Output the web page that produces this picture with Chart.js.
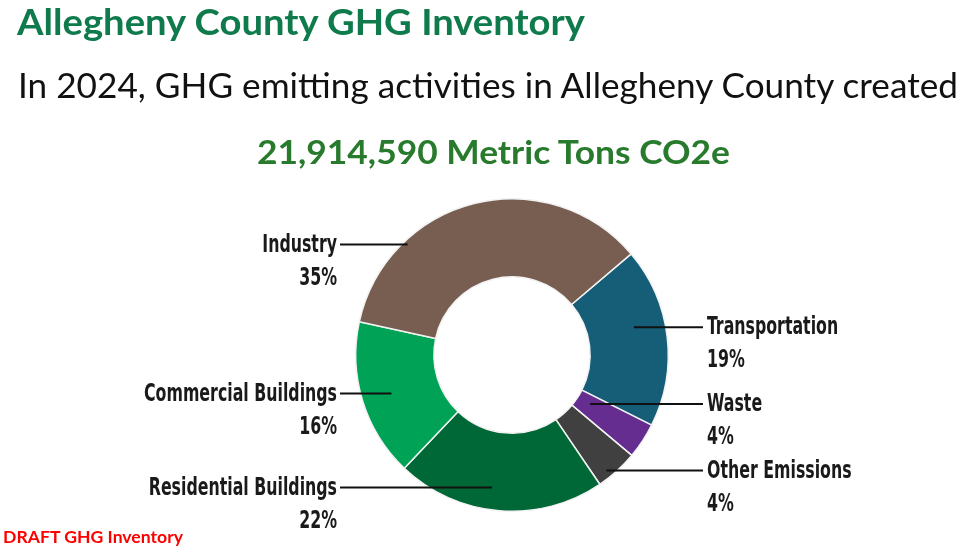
<!DOCTYPE html>
<html>
<head>
<meta charset="utf-8">
<script src="https://cdn.jsdelivr.net/npm/chart.js@4.4.1/dist/chart.umd.min.js"></script>
<style>
  html,body{margin:0;padding:0;background:#fff;}
  #wrap{position:relative;width:975px;height:556px;overflow:hidden;}
  #chartBox{position:absolute;left:0;top:0;width:975px;height:556px;}
  .t{position:absolute;white-space:nowrap;font-family:Lato,"Open Sans",sans-serif;line-height:1.2;transform-origin:0 0;}
  #title{left:17px;top:-0.5px;font-size:36px;font-weight:700;color:#0f7b4c;}
  #sub{left:18px;top:65px;font-size:34px;font-weight:400;color:#111;}
  #total{left:257px;top:132px;font-size:33px;font-weight:700;color:#287a2d;}
  #draft{left:3px;top:527px;font-size:17px;font-weight:700;color:#ff0000;}
</style>
</head>
<body>
<div id="wrap">
  <div id="chartBox"><canvas id="c"></canvas></div>
  <div class="t" id="title" data-w="568">Allegheny County GHG Inventory</div>
  <div class="t" id="sub" data-w="940">In 2024, GHG emitting activities in Allegheny County created</div>
  <div class="t" id="total" data-w="473">21,914,590 Metric Tons CO2e</div>
  <div class="t" id="draft" data-w="180">DRAFT GHG Inventory</div>
</div>
<script>
// ---- data ----
const categories = ["Transportation", "Waste", "Other Emissions", "Residential Buildings", "Commercial Buildings", "Industry"];
const shares = [18.6, 3.7, 4.4, 21.6, 16.3, 35.4];
const colors = ["#165e77", "#662d91", "#404040", "#006837", "#00a256", "#775e51"];
// leader layout (where the line touches each slice, and label side)
const leaderSide = ["right", "right", "right", "left", "left", "left"];
const leaderAngleFrac = [0.41, 0.41, 0.68, 0.55, 0.49, 0.27];
const leaderRadiusFrac = [0.80, 0.59, 0.955, 0.857, 0.81, 0.973];

// fit heading widths to the reference
document.querySelectorAll('.t').forEach(el => {
  const w = el.getBoundingClientRect().width;
  const target = parseFloat(el.dataset.w);
  if (w > 0) el.style.transform = 'scaleX(' + (target / w) + ')';
});

const LABEL_FONT = 'bold 24px "Liberation Sans Narrow", "DejaVu Sans Condensed", "Roboto Condensed", sans-serif';

const leaderPlugin = {
  id: 'leaders',
  afterDatasetsDraw(chart) {
    const ctx = chart.ctx;
    const meta = chart.getDatasetMeta(0);
    ctx.save();
    ctx.font = LABEL_FONT;
    const sx = 193 / ctx.measureText("Commercial Buildings").width;
    meta.data.forEach((arc, i) => {
      const p = arc.getProps(['x', 'y', 'startAngle', 'endAngle', 'outerRadius'], true);
      const a = p.startAngle + leaderAngleFrac[i] * (p.endAngle - p.startAngle);
      const r = leaderRadiusFrac[i] * p.outerRadius;
      const px = p.x + r * Math.cos(a);
      const py = p.y + r * Math.sin(a);
      const left = leaderSide[i] === 'left';
      const lx = left ? p.x - 172 : p.x + 191;
      ctx.beginPath();
      ctx.strokeStyle = '#111';
      ctx.lineWidth = 2;
      ctx.moveTo(px, py);
      ctx.lineTo(lx, py);
      ctx.stroke();
      const tx = left ? lx - 3 : lx + 4;
      const pct = Math.round(shares[i]) + '%';
      ctx.fillStyle = '#1a1a1a';
      ctx.textBaseline = 'middle';
      ctx.textAlign = left ? 'right' : 'left';
      [categories[i], pct].forEach((txt, k) => {
        ctx.save();
        ctx.translate(tx, py + 1 + k * 33);
        ctx.scale(sx, 1);
        ctx.fillText(txt, 0, 0);
        ctx.restore();
      });
    });
    ctx.restore();
  }
};

new Chart(document.getElementById('c'), {
  type: 'doughnut',
  data: {
    labels: categories,
    datasets: [{
      data: shares,
      backgroundColor: colors,
      borderColor: '#f2f2f2',
      borderWidth: 1.5,
      hoverOffset: 0
    }]
  },
  options: {
    responsive: true,
    maintainAspectRatio: false,
    animation: false,
    rotation: 49.7,
    cutout: '50%',
    layout: { padding: { left: 355, right: 306, top: 198, bottom: 44 } },
    plugins: {
      legend: { display: false },
      tooltip: { enabled: false },
      title: { display: false }
    },
    events: []
  },
  plugins: [leaderPlugin]
});
</script>
</body>
</html>
